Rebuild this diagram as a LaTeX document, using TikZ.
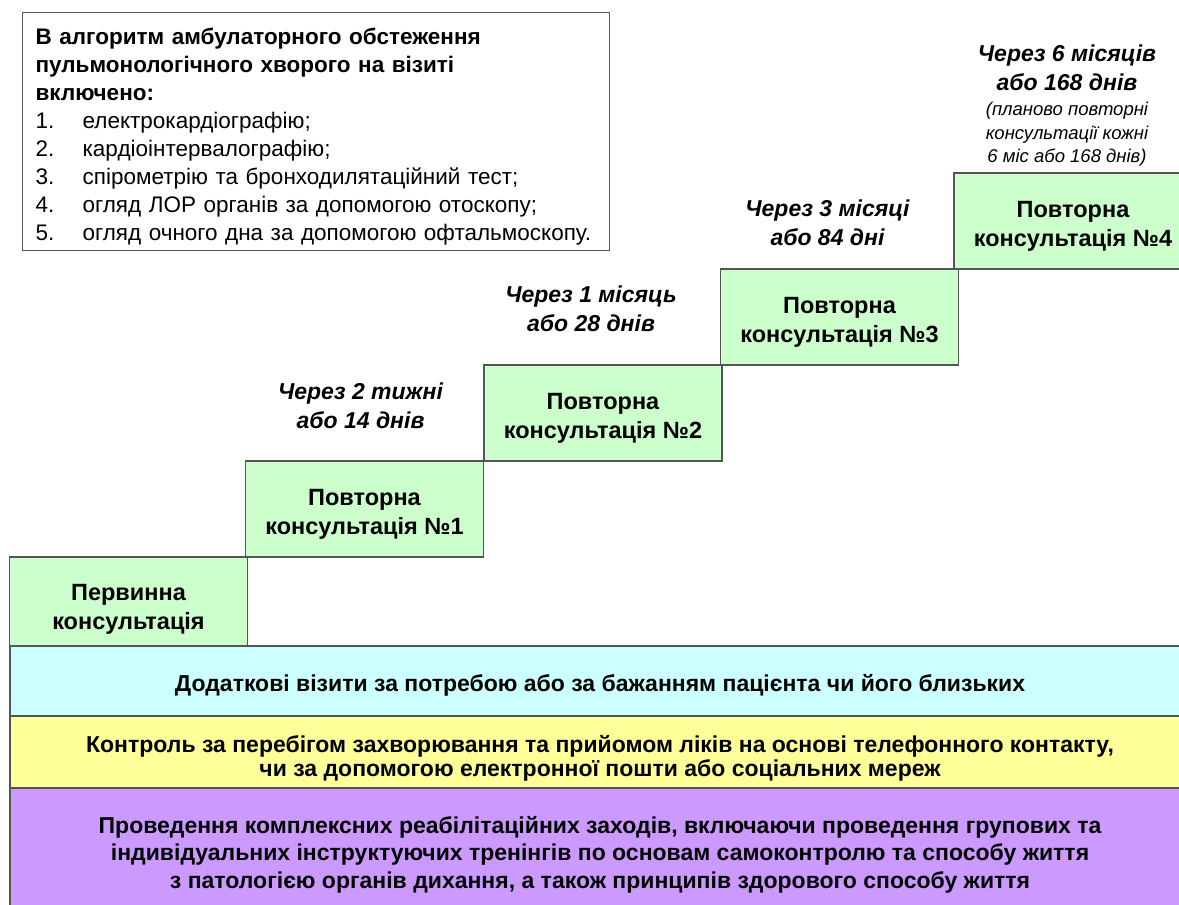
\documentclass[tikz,border=0pt]{standalone}
\usepackage{fontspec}
\setmainfont{Liberation Sans}
\usepackage{xcolor}
\usepackage{tikz}
\usetikzlibrary{positioning}
\definecolor{visitGreen}{RGB}{204, 255, 204}
\definecolor{bandCyan}{RGB}{204, 255, 255}
\definecolor{bandYellow}{RGB}{255, 255, 153}
\definecolor{bandViolet}{RGB}{204, 153, 255}
\definecolor{edgeGray}{RGB}{85, 85, 85}

\begin{document}
\begin{tikzpicture}[x=1pt, y=-1pt, node distance=12pt,
    visit/.style={rectangle, draw=edgeGray, line width=1.3pt, fill=visitGreen, minimum width=238pt, minimum height=96pt, outer sep=0pt, align=center, font=\fontsize{23.5}{29}\selectfont\bfseries},
    band/.style={rectangle, draw=edgeGray, line width=1.3pt, minimum width=1180pt, outer sep=0pt, align=center, font=\fontsize{23}{24.5}\selectfont\bfseries},
    term/.style={align=center, inner sep=0pt, font=\fontsize{23}{29}\selectfont\bfseries\itshape},
    note/.style={align=center, inner sep=0pt, font=\fontsize{18.5}{23.5}\selectfont\itshape}]
    \useasboundingbox (0,0) rectangle (1179,905);

    % examination box
    \node[draw=edgeGray, line width=1.3pt, anchor=north west, inner xsep=13pt, inner ysep=0pt, text width=561pt, minimum height=238pt, align=left, font=\fontsize{22.5}{28}\selectfont] (exam) at (22,12) {%
        \rule{0pt}{27pt}\textbf{В алгоритм амбулаторного обстеження}\\
        \textbf{пульмонологічного хворого на візиті}\\
        \textbf{включено:}\\
        \makebox[47pt][l]{1.}електрокардіографію;\\
        \makebox[47pt][l]{2.}кардіоінтервалографію;\\
        \makebox[47pt][l]{3.}спірометрію та бронходилятаційний тест;\\
        \makebox[47pt][l]{4.}огляд ЛОР органів за допомогою отоскопу;\\
        \makebox[47pt][l]{5.}огляд очного дна за допомогою офтальмоскопу.};

    % stairs of visits
    \node[visit, minimum height=89pt] (p0) at (128.5,601.5) {\rule{0pt}{32pt}Первинна\\консультація};
    \node[visit] (p1) at (364.5,509) {\rule{0pt}{27pt}Повторна\\консультація №1};
    \node[visit] (p2) at (603,413) {\rule{0pt}{26pt}Повторна\\консультація №2};
    \node[visit] (p3) at (839.5,317) {\rule{0pt}{26pt}Повторна\\консультація №3};
    \node[visit] (p4) at (1073,221) {\rule{0pt}{26pt}Повторна\\консультація №4};

    % intervals
    \node[term, above=32pt of p1, xshift=-4pt] (t1) {Через 2 тижні\\або 14 днів};
    \node[term, above=33pt of p2, xshift=-12pt] (t2) {Через 1 місяць\\або 28 днів};
    \node[term, above=23pt of p3, xshift=-12pt] (t3) {Через 3 місяці\\або 84 дні};
    \node[note, above=6pt of p4, xshift=-6pt] (n4) {(планово повторні\\консультації кожні\\6 міс або 168 днів)};
    \node[term, above=11pt of n4] (t4) {Через 6 місяців\\або 168 днів};

    % bands
    \node[band, fill=bandCyan, minimum height=70pt] (b1) at (600,681) {\rule{0pt}{25.5pt}Додаткові візити за потребою або за бажанням пацієнта чи його близьких};
    \node[band, fill=bandYellow, minimum height=72pt, below=0pt of b1] (b2) {\rule{0pt}{29.5pt}Контроль за перебігом захворювання та прийомом ліків на основі телефонного контакту,\\чи за допомогою електронної пошти або соціальних мереж};
    \node[band, fill=bandViolet, minimum height=142pt, below=0pt of b2, font=\fontsize{23}{27.5}\selectfont\bfseries, text depth=14pt] (b3) {Проведення комплексних реабілітаційних заходів, включаючи проведення групових та\\індивідуальних інструктуючих тренінгів по основам самоконтролю та способу життя\\з патологією органів дихання, а також принципів здорового способу життя};

\end{tikzpicture}
\end{document}
